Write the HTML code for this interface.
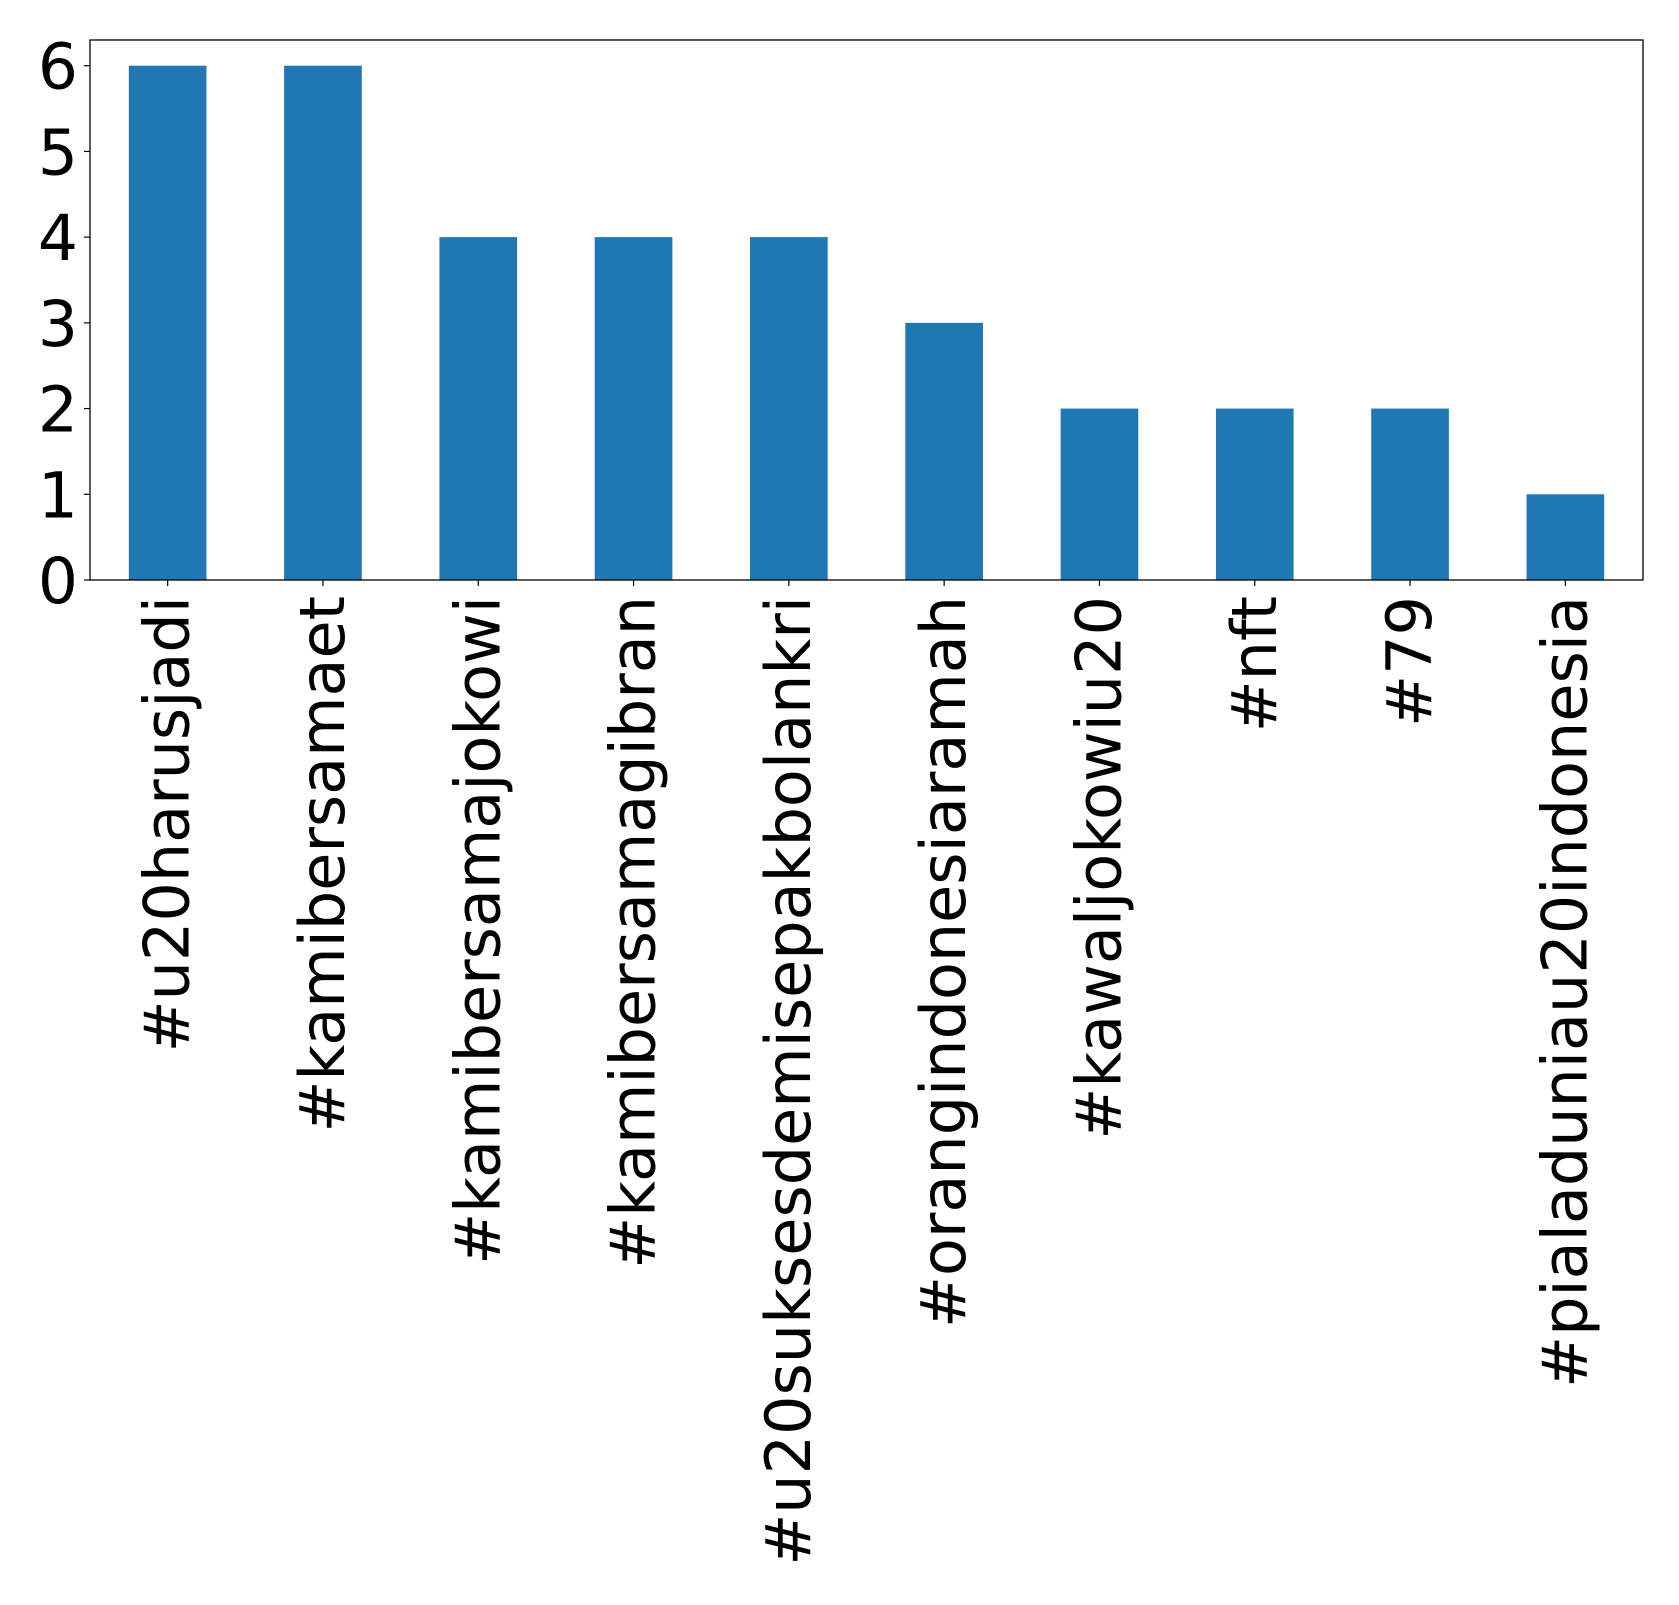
<!DOCTYPE html>
<html><head><meta charset="utf-8"><style>
html,body{margin:0;padding:0;background:#fff;}
svg{display:block;font-family:"DejaVu Sans","Liberation Sans",sans-serif;}
</style></head><body>
<svg id="chart" width="1679" height="1605" viewBox="0 0 1679 1605" xmlns="http://www.w3.org/2000/svg"></svg>
<script>
const categories = ["#u20harusjadi","#kamibersamaet","#kamibersamajokowi","#kamibersamagibran","#u20suksesdemisepakbolankri","#orangindonesiaramah","#kawaljokowiu20","#nft","#79","#pialaduniau20indonesia"];
const values = [6,6,4,4,4,3,2,2,2,1];
const yTicks = [0,1,2,3,4,5,6];

const NS = "http://www.w3.org/2000/svg";
const svg = document.getElementById("chart");
const L=90, R=1643, T=40, B=580;
const yMax = 6.3;
const n = categories.length;
const step = (R-L)/n;
function xPos(i){ return L + step*(i+0.5); }
function yPos(v){ return B - (B-T)*v/yMax; }
function mk(tag, attrs){ const e=document.createElementNS(NS,tag); for(const k in attrs) e.setAttribute(k,attrs[k]); svg.appendChild(e); return e; }

values.forEach((v,i)=>{
  const r = mk("rect",{x:xPos(i)-step*0.25, y:yPos(v), width:step*0.5, height:B-yPos(v), fill:"#1f77b4"});
  
  
});

const frame = mk("rect",{x:L,y:T,width:R-L,height:B-T,fill:"none",stroke:"#000","stroke-width":1.3});



yTicks.forEach(t=>{
  const y = yPos(t);
  const tk = mk("line",{x1:L-6,x2:L,y1:y,y2:y,stroke:"#000","stroke-width":1.2});
  
  
  const tx = mk("text",{x:L-12,y:y+23,"text-anchor":"end","font-size":63,fill:"#000"});
  tx.textContent = t;
  
  
});

categories.forEach((c,i)=>{
  const x = xPos(i);
  const tk = mk("line",{x1:x,x2:x,y1:B,y2:B+6,stroke:"#000","stroke-width":1.2});
  
  
  const tx = mk("text",{x:0,y:0,"text-anchor":"end","font-size":62,fill:"#000",transform:"translate("+(x+21)+",596) rotate(-90)"});
  tx.textContent = c;
  
  
});
</script>
</body></html>
